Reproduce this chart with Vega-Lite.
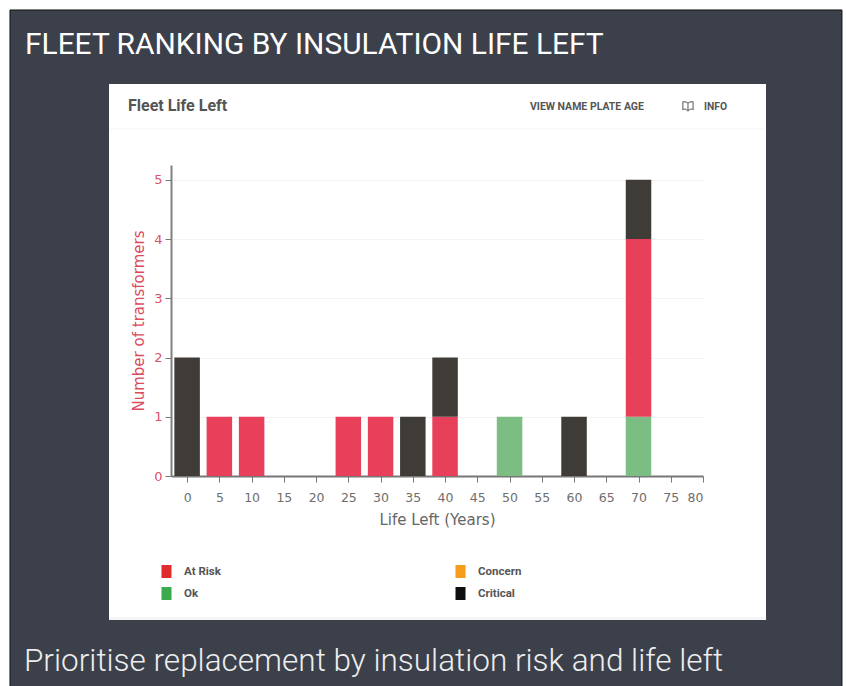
{
"$schema":"https://vega.github.io/schema/vega-lite/v6.json",
"width":657,"height":536,
"autosize":{"type":"none"},
"padding":{"left":109,"top":84,"right":80,"bottom":66},
"background":"#3c404b",
"view":{"fill":"#ffffff","stroke":null},
"layer":[
{"data":{"values":[
{"years":0,"status":"Critical","count":2,"rank":3},
{"years":5,"status":"At Risk","count":1,"rank":2},
{"years":10,"status":"At Risk","count":1,"rank":2},
{"years":25,"status":"At Risk","count":1,"rank":2},
{"years":30,"status":"At Risk","count":1,"rank":2},
{"years":35,"status":"Critical","count":1,"rank":3},
{"years":40,"status":"At Risk","count":1,"rank":2},
{"years":40,"status":"Critical","count":1,"rank":3},
{"years":50,"status":"Ok","count":1,"rank":1},
{"years":60,"status":"Critical","count":1,"rank":3},
{"years":70,"status":"Ok","count":1,"rank":1},
{"years":70,"status":"At Risk","count":3,"rank":2},
{"years":70,"status":"Critical","count":1,"rank":3}
]},
"mark":{"type":"bar","width":25.5},
"encoding":{
"x":{"field":"years","type":"quantitative","scale":{"domain":[-2.5,80],"range":[62,594],"nice":false,"zero":false,"padding":0},
"axis":{"title":"Life Left (Years)","values":[0,5,10,15,20,25,30,35,40,45,50,55,60,65,70,75,80],"offset":-144,"grid":false,"domainColor":"#777777","domainWidth":2,"tickColor":"#777777","tickSize":6,"labelColor":"#6e6e6e","labelFont":"DejaVu Sans","labelFontSize":12.5,"labelPadding":9,"titleFont":"DejaVu Sans","titleFontSize":15,"titleFontWeight":"normal","titleColor":"#666666","titlePadding":9}},
"y":{"field":"count","type":"quantitative","stack":"zero","scale":{"domain":[0,5.25],"range":[392,81],"nice":false,"zero":false,"padding":0},
"axis":{"title":"Number of transformers","values":[0,1,2,3,4,5],"format":"d","offset":-62,"grid":true,"gridColor":"#f3f3f3","domainColor":"#808080","domainWidth":2,"tickColor":"#777777","tickSize":6,"labelColor":"#d9536a","labelFont":"DejaVu Sans","labelFontSize":13,"labelPadding":3,"titleFont":"DejaVu Sans","titleFontSize":15,"titleFontWeight":"normal","titleColor":"#dc4a60","titlePadding":7}},
"fill":{"field":"status","type":"nominal","scale":{"domain":["At Risk","Concern","Ok","Critical"],"range":["#e83f5b","#f49c1c","#7bbd82","#3f3c38"]},"legend":null},
"order":{"field":"rank","type":"quantitative"}
}},
{"data":{"values":[{"status":"At Risk"},{"status":"Ok"},{"status":"Concern"},{"status":"Critical"}]},
"mark":{"type":"point","filled":true,"size":0,"opacity":1},
"encoding":{
"color":{"field":"status","type":"nominal","scale":{"domain":["At Risk","Ok","Concern","Critical"],"range":["#e02b2f","#3baa4f","#f49c1c","#0e0e0e"]},
"legend":{"orient":"none","legendX":50,"legendY":480,"columns":2,"title":null,"symbolType":"M-0.77,-1H0.77V1H-0.77Z","symbolSize":169,"symbolOpacity":1,"labelFont":"Roboto","labelFontSize":11.5,"labelFontWeight":"bold","labelColor":"#555555","labelOffset":10,"columnPadding":232,"rowPadding":8,"gridAlign":"each"}}
}},
{"data":{"values":[{"part":"left"}]},"mark":{"type":"rect","fill":"#ffffff"},"encoding":{"x":{"datum":-29.1,"title":null},"x2":{"datum":-27.47},"y":{"datum":8.1,"title":null},"y2":{"datum":-3.6}}},
{"data":{"values":[{"part":"top"}]},"mark":{"type":"rect","fill":"#ffffff"},"encoding":{"x":{"datum":-29.1,"title":null},"x2":{"datum":102.3},"y":{"datum":8.1,"title":null},"y2":{"datum":7.867}}},
{"data":{"values":[{"part":"right"}]},"mark":{"type":"rect","fill":"#ffffff"},"encoding":{"x":{"datum":101.55,"title":null},"x2":{"datum":102.3},"y":{"datum":8.1,"title":null},"y2":{"datum":-3.6}}},
{"data":{"values":[{"part":"frame"}]},"mark":{"type":"rect","fill":null,"stroke":"#111111","strokeWidth":1},"encoding":{"x":{"datum":-27.47,"title":null},"x2":{"datum":101.55},"y":{"datum":7.867,"title":null},"y2":{"datum":-3.7}}},
{"data":{"values":[{"part":"divider"}]},"mark":{"type":"rule","stroke":"#f6f6f6"},"encoding":{"x":{"datum":-12.11,"title":null},"x2":{"datum":89.78},"y":{"datum":5.858,"title":null}}},
{"data":{"values":[{"part":"footer"}]},"mark":{"type":"rect","fill":"#f5f5f5"},"encoding":{"x":{"datum":-12.11,"title":null},"x2":{"datum":89.78},"y":{"datum":-2.38,"title":null},"y2":{"datum":-2.431}}},
{"data":{"values":[{"label":"FLEET RANKING BY INSULATION LIFE LEFT"}]},"mark":{"type":"text","align":"left","baseline":"alphabetic","font":"Roboto","fontSize":29.9,"color":"#ffffff"},"encoding":{"x":{"datum":-25.14,"title":null},"y":{"datum":7.124,"title":null},"text":{"field":"label"}}},
{"data":{"values":[{"label":"Prioritise replacement by insulation risk and life left"}]},"mark":{"type":"text","align":"left","baseline":"alphabetic","font":"Roboto","fontWeight":300,"fontSize":31.5,"color":"#eeeeee"},"encoding":{"x":{"datum":-25.3,"title":null},"y":{"datum":-3.292,"title":null},"text":{"field":"label"}}},
{"data":{"values":[{"label":"Fleet Life Left"}]},"mark":{"type":"text","align":"left","baseline":"alphabetic","font":"Roboto","fontWeight":"bold","fontSize":16,"color":"#555555"},"encoding":{"x":{"datum":-9.17,"title":null},"y":{"datum":6.162,"title":null},"text":{"field":"label"}}},
{"data":{"values":[{"label":"VIEW NAME PLATE AGE"}]},"mark":{"type":"text","align":"left","baseline":"alphabetic","font":"Roboto","fontWeight":"bold","fontSize":10.5,"color":"#555555"},"encoding":{"x":{"datum":53.17,"title":null},"y":{"datum":6.178,"title":null},"text":{"field":"label"}}},
{"data":{"values":[{"label":"INFO"}]},"mark":{"type":"text","align":"left","baseline":"alphabetic","font":"Roboto","fontWeight":"bold","fontSize":10.3,"color":"#555555"},"encoding":{"x":{"datum":80.15,"title":null},"y":{"datum":6.178,"title":null},"text":{"field":"label"}}},
{"data":{"values":[{"label":"info icon"}]},"mark":{"type":"point","filled":false,"stroke":"#555555","strokeWidth":1.4,"size":130,"shape":"M0,-0.5C-0.3,-0.8 -0.6,-0.8 -0.9,-0.7L-0.9,0.6C-0.6,0.5 -0.3,0.5 0,0.85C0.3,0.5 0.6,0.5 0.9,0.6L0.9,-0.7C0.6,-0.8 0.3,-0.8 0,-0.5L0,0.85"},"encoding":{"x":{"datum":77.67,"title":null},"y":{"datum":6.246,"title":null}}}
]
}
